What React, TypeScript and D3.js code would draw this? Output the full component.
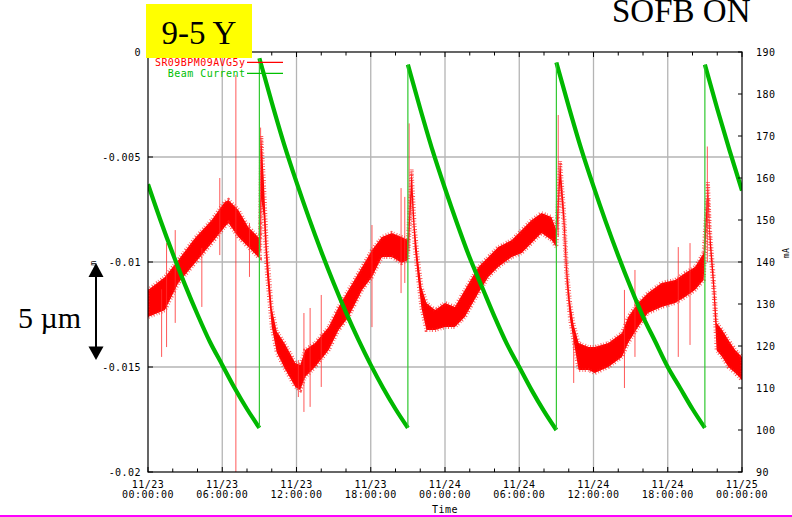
import React, { useRef, useEffect } from 'react';
import * as d3 from 'd3';

// x axis: hours since 11/23 00:00
const xTickHours = [0, 6, 12, 18, 24, 30, 36, 42, 48];
const xTickDates = ["11/23", "11/23", "11/23", "11/23", "11/24", "11/24", "11/24", "11/24", "11/25"];
const xTickTimes = ["00:00:00", "06:00:00", "12:00:00", "18:00:00", "00:00:00", "06:00:00", "12:00:00", "18:00:00", "00:00:00"];

const leftTicks = [0, -0.005, -0.01, -0.015, -0.02];
const leftTickLabels = ["0", "-0.005", "-0.01", "-0.015", "-0.02"];
const rightTicks = [90, 100, 110, 120, 130, 140, 150, 160, 170, 180, 190];

// Beam Current (mA), hourly samples, one list per fill
const fillStarts = [0, 9, 21, 33, 45];
const fillValues = [
  [158.5, 150, 142, 134.5, 127.5, 121, 115.5, 110, 105, 100.5],
  [188.5, 178, 168, 159, 150.5, 142.5, 135, 128, 121.5, 115.5, 110, 105, 100.5],
  [187, 176.5, 166.5, 157.5, 149, 141, 134, 127, 120.5, 115, 109.5, 104.5, 100],
  [187.5, 177, 167, 158, 149.5, 141.5, 134, 127, 121, 115, 110, 105, 100.5],
  [187, 176.5, 166.5, 157],
];

// SR09BPM09AVG5y (m): [hour, upper edge, lower edge] of the noisy trace
const bpmBand = [
  [0.0, -0.01133, -0.01262], [1.37, -0.01071, -0.01229], [2.45, -0.0099, -0.011],
  [3.8, -0.00886, -0.01005], [5.15, -0.008, -0.0091], [6.2, -0.00714, -0.00833],
  [6.5, -0.00705, -0.00814], [7.3, -0.00752, -0.00881], [8.1, -0.00833, -0.00929],
  [8.9, -0.00881, -0.00976], [9.05, -0.0089, -0.0098], [9.15, -0.004, -0.007],
  [9.35, -0.006, -0.0078], [9.6, -0.0093, -0.0105], [10.0, -0.0122, -0.0131],
  [10.4, -0.0133, -0.0143], [11.07, -0.0139, -0.0151], [11.9, -0.01481, -0.01595],
  [12.3, -0.0149, -0.0161], [12.7, -0.01419, -0.01548], [13.5, -0.01386, -0.015],
  [14.6, -0.0131, -0.01419], [15.4, -0.01214, -0.01324], [16.2, -0.01133, -0.01262],
  [17.3, -0.01024, -0.01133], [18.1, -0.00943, -0.01071], [18.9, -0.00881, -0.00976],
  [19.7, -0.00862, -0.00976], [20.5, -0.00881, -0.01005], [21.0, -0.00895, -0.0099],
  [21.3, -0.0056, -0.0068], [21.55, -0.0083, -0.0093], [21.8, -0.0098, -0.0107],
  [22.1, -0.0112, -0.0122], [22.5, -0.01195, -0.01324], [23.2, -0.01229, -0.01324],
  [24.0, -0.01195, -0.0131], [24.8, -0.01214, -0.0131], [25.6, -0.01133, -0.01262],
  [26.7, -0.01024, -0.01148], [27.5, -0.00976, -0.01071], [28.3, -0.00929, -0.01024],
  [29.4, -0.00895, -0.00976], [30.2, -0.00848, -0.00957], [31.0, -0.008, -0.0091],
  [31.8, -0.00767, -0.00862], [32.6, -0.00786, -0.00895], [33.0, -0.00848, -0.00929],
  [33.3, -0.0052, -0.0062], [33.6, -0.0074, -0.0083], [33.85, -0.0103, -0.0111],
  [34.1, -0.0119, -0.0127], [34.4, -0.013, -0.0138], [34.8, -0.01386, -0.01514],
  [35.6, -0.01405, -0.01514], [36.1, -0.01405, -0.01529], [37.2, -0.01386, -0.015],
  [38.3, -0.01338, -0.01452], [38.8, -0.01262, -0.01386], [39.6, -0.01195, -0.0131],
  [40.4, -0.01148, -0.01243], [41.5, -0.011, -0.01214], [42.6, -0.01086, -0.01195],
  [43.4, -0.01052, -0.01167], [44.2, -0.01024, -0.01133], [44.9, -0.00957, -0.01086],
  [45.25, -0.0062, -0.007], [45.4, -0.0084, -0.0092], [45.7, -0.0106, -0.0114],
  [45.95, -0.0129, -0.0142], [46.4, -0.01324, -0.01452], [46.9, -0.01371, -0.015],
  [47.45, -0.01419, -0.01529], [48.0, -0.01452, -0.01562],
];

// isolated spikes: [hour, top, bottom]
const bpmSpikes = [
  [1.1, -0.0113, -0.01452], [1.5, -0.0091, -0.01405], [2.2, -0.00848, -0.0129],
  [4.35, -0.00933, -0.01214], [5.8, -0.006, -0.00967], [7.1, -0.0011, -0.02],
  [8.2, -0.00814, -0.01071], [9.1, -0.0036, -0.0095], [12.15, -0.01467, -0.01643],
  [12.6, -0.01243, -0.01714], [13.1, -0.01219, -0.0169], [14.0, -0.01157, -0.01595],
  [18.1, -0.00824, -0.0131], [20.45, -0.00648, -0.01148], [20.75, -0.0069, -0.011],
  [21.1, -0.0034, -0.0095], [33.15, -0.003, -0.0088], [34.4, -0.01338, -0.01576],
  [38.5, -0.01133, -0.016], [39.35, -0.01038, -0.01452], [42.85, -0.00929, -0.01452],
  [43.8, -0.0091, -0.01395], [45.2, -0.0045, -0.01],
];

const W = 792, H = 517;
const L = 148, R = 742, T = 52, B = 472;
const MONO = "'DejaVu Sans Mono', monospace";
const SERIF = "'Liberation Serif', 'Times New Roman', serif";

const App = () => {
  const svgRef = useRef<SVGSVGElement>(null);

  useEffect(() => {
    const svg = d3.select(svgRef.current);
    svg.selectAll('*').remove();

    const x = d3.scaleLinear().domain([0, 48]).range([L, R]);
    const yL = d3.scaleLinear().domain([-0.02, 0]).range([B, T]);
    const yR = d3.scaleLinear().domain([90, 190]).range([B, T]);

    svg.append('rect').attr('width', W).attr('height', H).attr('fill', 'white');

    // grid
    const grid = svg.append('g').attr('stroke', '#b4b4b4').attr('stroke-width', 1.3);
    xTickHours.slice(1, -1).forEach(h => {
      grid.append('line').attr('x1', x(h)).attr('x2', x(h)).attr('y1', T).attr('y2', B);
    });
    leftTicks.slice(1, -1).forEach(v => {
      grid.append('line').attr('x1', L).attr('x2', R).attr('y1', yL(v)).attr('y2', yL(v));
    });

    svg.append('clipPath').attr('id', 'plot').append('rect')
      .attr('x', L).attr('y', T).attr('width', R - L).attr('height', B - T);
    const plot = svg.append('g').attr('clip-path', 'url(#plot)');

    // BPM trace (filled band with a ragged edge)
    const area = d3.area<number[]>()
      .x(d => x(d[0]))
      .y0(d => yL(d[2]))
      .y1(d => yL(d[1]));
    plot.append('path')
      .attr('d', area(bpmBand))
      .attr('fill', '#ff0000');
    plot.append('path')
      .attr('d', area(bpmBand))
      .attr('fill', 'none')
      .attr('stroke', '#ff1a1a')
      .attr('stroke-width', 4)
      .attr('stroke-dasharray', '1 1.6 0.7 2.2')
      .attr('stroke-opacity', 0.75);

    plot.selectAll('line.spike')
      .data(bpmSpikes)
      .join('line')
      .attr('class', 'spike')
      .attr('x1', d => x(d[0])).attr('x2', d => x(d[0]))
      .attr('y1', d => yL(d[1])).attr('y2', d => yL(d[2]))
      .attr('stroke', '#ff3030')
      .attr('stroke-opacity', 0.8)
      .attr('stroke-width', 1);

    // Beam current
    const fills = fillValues.map((vals, i) => vals.map((v, j) => [fillStarts[i] + j, v]));
    const line = d3.line<number[]>().x(d => x(d[0])).y(d => yR(d[1])).curve(d3.curveMonotoneX);
    fills.forEach(f => {
      plot.append('path')
        .attr('d', line(f))
        .attr('fill', 'none')
        .attr('stroke', '#00b800')
        .attr('stroke-width', 4.2);
    });
    for (let i = 1; i < fills.length; i++) {
      const prev = fills[i - 1][fills[i - 1].length - 1];
      const next = fills[i][0];
      plot.append('line')
        .attr('x1', x(prev[0])).attr('x2', x(next[0]))
        .attr('y1', yR(prev[1])).attr('y2', yR(next[1]))
        .attr('stroke', '#30c830')
        .attr('stroke-width', 1.2);
    }

    // frame
    svg.append('rect')
      .attr('x', L).attr('y', T).attr('width', R - L).attr('height', B - T)
      .attr('fill', 'none').attr('stroke', '#000').attr('stroke-width', 1.2);

    const ticks = svg.append('g').attr('stroke', '#000').attr('stroke-width', 1);
    d3.range(0, 49, 2).forEach(h => {
      const len = h % 6 === 0 ? 5 : 3.5;
      ticks.append('line').attr('x1', x(h)).attr('x2', x(h)).attr('y1', B).attr('y2', B - len);
      ticks.append('line').attr('x1', x(h)).attr('x2', x(h)).attr('y1', T).attr('y2', T + len);
    });
    leftTicks.forEach(v => {
      ticks.append('line').attr('x1', L).attr('x2', L + 5).attr('y1', yL(v)).attr('y2', yL(v));
    });
    rightTicks.forEach(v => {
      ticks.append('line').attr('x1', R).attr('x2', R - 4).attr('y1', yR(v)).attr('y2', yR(v));
    });

    const txt = svg.append('g')
      .style('font-family', MONO).style('font-size', '10px')
      .style('letter-spacing', '0.45px').attr('fill', '#000');

    leftTicks.forEach((v, i) => {
      txt.append('text').attr('x', 141).attr('y', yL(v) + 3.7)
        .attr('text-anchor', 'end').text(leftTickLabels[i]);
    });
    rightTicks.forEach(v => {
      txt.append('text').attr('x', 756).attr('y', yR(v) + 4).text(String(v));
    });
    xTickHours.forEach((h, i) => {
      txt.append('text').attr('x', x(h)).attr('y', 487.5)
        .attr('text-anchor', 'middle').text(xTickDates[i]);
      txt.append('text').attr('x', x(h)).attr('y', 497.5)
        .attr('text-anchor', 'middle').text(xTickTimes[i]);
    });
    txt.append('text').attr('x', 445).attr('y', 512.5)
      .attr('text-anchor', 'middle').text('Time');
    txt.append('text')
      .attr('transform', 'translate(789,253) rotate(-90)')
      .attr('text-anchor', 'middle').style('font-size', '8px').text('mA');
    txt.append('text')
      .attr('transform', 'translate(96,263) rotate(-90)')
      .attr('text-anchor', 'middle').style('font-size', '8px').text('m');

    // legend
    const legend = [
      { label: 'SR09BPM09AVG5y', color: '#ff0000', y: 62.3 },
      { label: 'Beam Current', color: '#00c000', y: 73.3 },
    ];
    legend.forEach(d => {
      txt.append('text').attr('x', 245.5).attr('y', d.y + 3.5)
        .attr('text-anchor', 'end').attr('fill', d.color).text(d.label);
      svg.append('line').attr('x1', 247).attr('x2', 283).attr('y1', d.y).attr('y2', d.y)
        .attr('stroke', d.color).attr('stroke-width', 1.2);
    });

    // annotations
    svg.append('rect').attr('x', 146).attr('y', 4).attr('width', 106).attr('height', 54)
      .attr('fill', '#ffff00');
    svg.append('text').attr('x', 199).attr('y', 43.5).attr('text-anchor', 'middle')
      .style('font-family', SERIF).style('font-size', '33px').text('9-5 Y');
    svg.append('text').attr('x', 612).attr('y', 22)
      .style('font-family', SERIF).style('font-size', '33px').text('SOFB ON');
    svg.append('text').attr('x', 18).attr('y', 328)
      .style('font-family', SERIF).style('font-size', '30px').text('5 \u00b5m');

    const arrow = svg.append('g').attr('fill', '#000');
    svg.append('line').attr('x1', 96).attr('x2', 96).attr('y1', 272).attr('y2', 352)
      .attr('stroke', '#000').attr('stroke-width', 2);
    arrow.append('path').attr('d', 'M96,263 L88.5,277 L103.5,277 Z');
    arrow.append('path').attr('d', 'M96,360 L88.5,346.5 L103.5,346.5 Z');

    svg.append('line').attr('x1', 0).attr('x2', W).attr('y1', 516).attr('y2', 516)
      .attr('stroke', '#ff00ff').attr('stroke-width', 2);
  }, []);

  return (
    <svg ref={svgRef} width={W} height={H}
      style={{ position: 'absolute', left: 0, top: 0, display: 'block' }} />
  );
};

export default App;
